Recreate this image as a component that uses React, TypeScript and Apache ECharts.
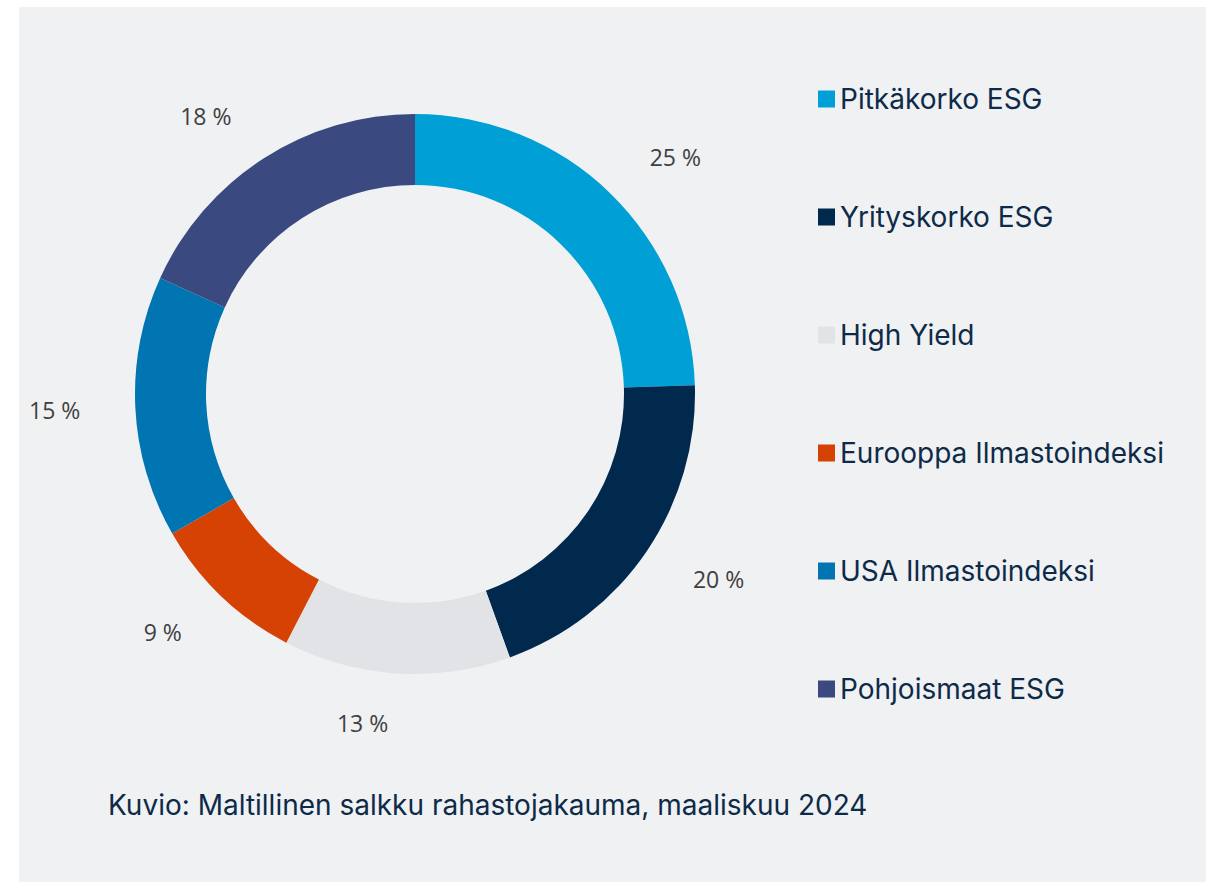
import React, { useEffect, useRef } from "react";
import * as echarts from "echarts";

const categories = [
  "Pitkäkorko ESG",
  "Yrityskorko ESG",
  "High Yield",
  "Eurooppa Ilmastoindeksi",
  "USA Ilmastoindeksi",
  "Pohjoismaat ESG",
];
const shares = [24.5, 20.0, 13.1, 9.1, 15.1, 18.2];
const colors = ["#00a0d6", "#00294d", "#e2e3e6", "#d64104", "#0075b1", "#3a4a80"];
const caption = "Kuvio: Maltillinen salkku rahastojakauma, maaliskuu 2024";

export default function App() {
  const ref = useRef<HTMLDivElement>(null);
  useEffect(() => {
    document.body.style.margin = "0";
    if (!ref.current) return;
    const chart = echarts.init(ref.current, null, { renderer: "svg" });
    chart.setOption({
      animation: false,
      backgroundColor: "#ffffff",
      graphic: [
        {
          type: "rect",
          z: -10,
          shape: { x: 19, y: 7, width: 1187, height: 875 },
          style: { fill: "#f0f1f3" },
          silent: true,
        },
        {
          type: "text",
          left: 108,
          top: 791,
          style: {
            text: caption,
            fill: "#0d2b48",
            font: '28px Inter, "Noto Sans", sans-serif',
          },
        },
      ],
      legend: {
        orient: "vertical",
        left: 818,
        top: 84,
        padding: 0,
        itemWidth: 17,
        itemHeight: 17,
        itemGap: 88,
        icon: "rect",
        data: categories,
        textStyle: {
          color: "#0d2b48",
          fontSize: 28,
          lineHeight: 30,
          fontFamily: 'Inter, "Noto Sans", sans-serif',
        },
      },
      series: [
        {
          type: "pie",
          center: [415, 394],
          radius: [209, 280],
          startAngle: 90,
          clockwise: true,
          avoidLabelOverlap: false,
          emphasis: { disabled: true },
          label: {
            show: true,
            position: "outside",
            formatter: (p: any) => Math.round(p.value) + " %",
            color: "#404040",
            fontSize: 23,
            fontFamily: '"Open Sans", sans-serif',
            distanceToLabelLine: 5,
          },
          labelLine: { show: false, length: 50, length2: 0 },
          data: categories.map((name, i) => ({
            name,
            value: shares[i],
            itemStyle: { color: colors[i] },
          })),
        },
      ],
    });
    return () => chart.dispose();
  }, []);
  return <div ref={ref} style={{ width: 1206, height: 882 }} />;
}
